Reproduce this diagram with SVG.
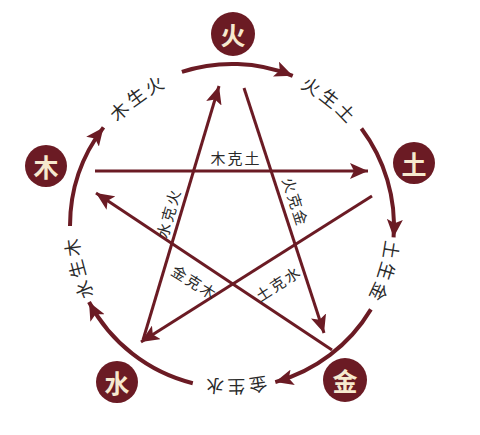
<svg xmlns="http://www.w3.org/2000/svg" width="480" height="435" viewBox="0 0 480 435">
<style>
.node circle{fill:#6b1b24}
.node text{fill:#f6e9cf;font-family:"Noto Sans CJK SC","Noto Sans",sans-serif;font-weight:bold;font-size:25px;text-anchor:middle;dominant-baseline:central}
.arc{fill:none;stroke:#6b1b24;stroke-width:4}
.star{fill:none;stroke:#6b1b24;stroke-width:3}
.lbl{fill:#2a2a2a;font-family:"Noto Sans CJK SC","Noto Sans",sans-serif;font-size:18px;letter-spacing:4px}
.in{fill:#2a2a2a;font-family:"Noto Sans CJK SC","Noto Sans",sans-serif;font-size:15px;letter-spacing:2px;text-anchor:middle;dominant-baseline:central}
</style>
<defs>
<marker id="ah" markerUnits="userSpaceOnUse" markerWidth="20" markerHeight="16" refX="18" refY="8" orient="auto">
<path d="M0,0 L18,8 L0,16 L4,8 z" fill="#6b1b24"/>
</marker>
<path id="ring" d="M70,226 A162,162 0 1,1 394,226 A162,162 0 1,1 70,226"/>
</defs>
<rect width="480" height="435" fill="#ffffff"/>
<g id="connectors">
<path class="arc" d="M181.9,71.9 A162,162 0 0,1 292.7,75.8" marker-end="url(#ah)"/>
<path class="arc" d="M361.4,128.5 A162,162 0 0,1 393.6,237.3" marker-end="url(#ah)"/>
<path class="arc" d="M370.9,309.4 A162,162 0 0,1 275.3,382.1" marker-end="url(#ah)"/>
<path class="arc" d="M192.8,383.2 A162,162 0 0,1 89,302" marker-end="url(#ah)"/>
<path class="arc" d="M70,226 A162,162 0 0,1 103.5,127.4" marker-end="url(#ah)"/>
<line class="star" x1="95" y1="171" x2="368" y2="171" marker-end="url(#ah)"/>
<line class="star" x1="143" y1="340" x2="219" y2="86" marker-end="url(#ah)"/>
<line class="star" x1="244" y1="88" x2="324" y2="333" marker-end="url(#ah)"/>
<line class="star" x1="332" y1="350" x2="96" y2="193" marker-end="url(#ah)"/>
<line class="star" x1="372" y1="196" x2="141" y2="342" marker-end="url(#ah)"/>
</g>
<g id="labels">
<text class="lbl" dominant-baseline="central" text-anchor="middle"><textPath href="#ring" startOffset="152.7">木生火</textPath></text>
<text class="lbl" dominant-baseline="central" text-anchor="middle"><textPath href="#ring" startOffset="361.9">火生土</textPath></text>
<text class="lbl" dominant-baseline="central" text-anchor="middle"><textPath href="#ring" startOffset="557">土生金</textPath></text>
<text class="lbl" dominant-baseline="central" text-anchor="middle"><textPath href="#ring" startOffset="760.6">金生水</textPath></text>
<text class="lbl" dominant-baseline="central" text-anchor="middle"><textPath href="#ring" startOffset="975.5">水生木</textPath></text>
<text class="in" x="236" y="157">木克土</text>
<text class="in" transform="translate(168,213) rotate(-74)">水克火</text>
<text class="in" transform="translate(296,202) rotate(72)">火克金</text>
<text class="in" transform="translate(195,282) rotate(32)">金克木</text>
<text class="in" transform="translate(278,283) rotate(-33)">土克水</text>
</g>
<g id="node-fire" class="node"><circle cx="233" cy="34" r="22"/><text x="233" y="34">火</text></g>
<g id="node-wood" class="node"><circle cx="46" cy="166" r="21"/><text x="46" y="166">木</text></g>
<g id="node-earth" class="node"><circle cx="414" cy="163" r="21"/><text x="414" y="163">土</text></g>
<g id="node-water" class="node"><circle cx="117" cy="382" r="21"/><text x="117" y="382">水</text></g>
<g id="node-metal" class="node"><circle cx="345" cy="380" r="22"/><text x="345" y="380">金</text></g>
</svg>
